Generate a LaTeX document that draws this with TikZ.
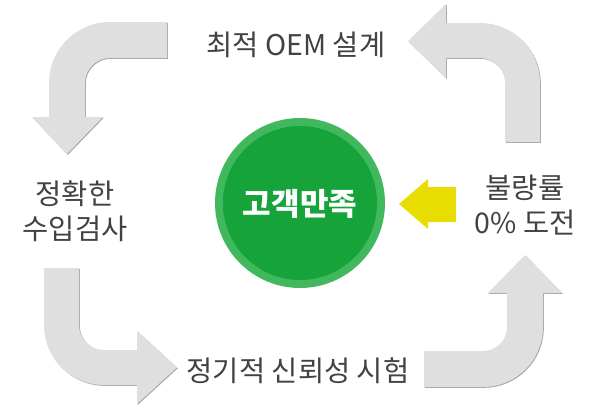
\documentclass[tikz,border=0pt]{standalone}
\usepackage{fontspec}
\setmainfont{Noto Sans CJK KR}
\usetikzlibrary{arrows.meta,positioning}
\definecolor{arrowgray}{RGB}{223,223,223}
\definecolor{arrowshade}{RGB}{165,165,165}
\definecolor{labelgray}{RGB}{66,66,66}
\definecolor{ringgreen}{RGB}{66,184,94}
\definecolor{coregreen}{RGB}{22,163,58}
\definecolor{midgreen}{RGB}{20,146,52}
\definecolor{edgegreen}{RGB}{15,120,42}
\definecolor{pushyellow}{RGB}{232,221,0}
\pgfdeclareradialshading{coreshade}{\pgfpoint{0bp}{0bp}}{color(0bp)=(coregreen); color(41bp)=(coregreen); color(47bp)=(midgreen); color(50bp)=(edgegreen)}

\begin{document}
\begin{tikzpicture}[x=1pt,y=-1pt,
  every node/.style={font=\fontsize{28.5}{35}\selectfont,text=labelgray},
  turnarrow/.style={fill=arrowgray,preaction={fill=arrowshade,transform canvas={shift={(0.8pt,-0.8pt)}}}}]
\useasboundingbox (0,0) rectangle (600,410);
% turning arrows round the cycle
\path[turnarrow] (167,22) -- (110,22) arc[start angle=-90,end angle=-180,radius=61] -- (49,117) -- (32,117) -- (67,154) -- (103,117) -- (85,117) -- (85,83) arc[start angle=180,end angle=270,radius=25] -- (167,58) -- cycle;
\path[turnarrow] (505,142) -- (505,83) arc[start angle=0,end angle=-90,radius=25] -- (446,58) -- (446,78) -- (408,41) -- (446,4) -- (446,23) -- (480,23) arc[start angle=-90,end angle=0,radius=60] -- (540,142) -- cycle;
\path[turnarrow] (44,268) -- (79,268) -- (79,325) arc[start angle=180,end angle=90,radius=25] -- (137,350) -- (137,331) -- (177,367.5) -- (137,404) -- (137,385) -- (104,385) arc[start angle=90,end angle=180,radius=60] -- cycle;
\path[turnarrow] (424,351) -- (483,351) arc[start angle=90,end angle=0,radius=24] -- (507,293) -- (488,293) -- (525,255) -- (562,293) -- (543,293) -- (543,327) arc[start angle=0,end angle=90,radius=60] -- (424,387) -- cycle;
% centre disc
\fill[ringgreen] (300,203) circle[radius=85];
\shade[shading=coreshade] (300,203) circle[radius=77];
\node[font=\fontsize{31}{33}\selectfont\bfseries,text=white] (goal) at (300,204) {고객만족};
% yellow push arrow
\fill[pushyellow] (456,187) -- (428,187) -- (428,179) -- (399,204) -- (428,229) -- (428,222) -- (456,222) -- cycle;
\node (design) at (296,45) {최적 OEM 설계};
\node[align=center] (inspect) at (75,211) {정확한\\수입검사};
\node[align=center] (defect) at (525,205) {불량률\\0\% 도전};
\node (test) at (298,371) {정기적 신뢰성 시험};
\end{tikzpicture}
\end{document}
